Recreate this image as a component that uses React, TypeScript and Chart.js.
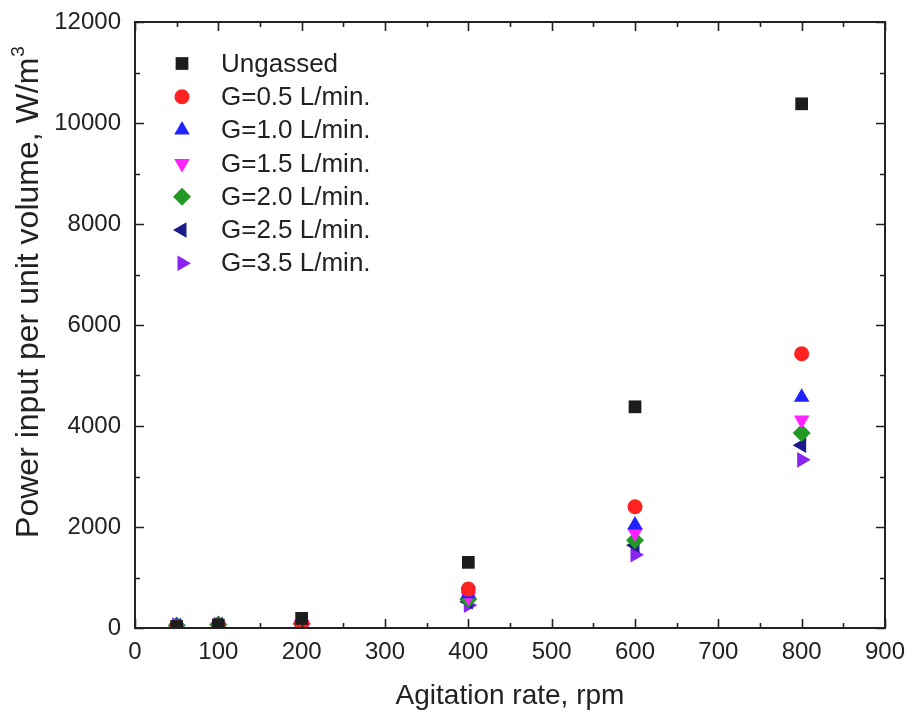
import React, { useEffect, useRef } from 'react';
import { Chart, registerables } from 'chart.js';
import { drawPoint } from 'chart.js/helpers';

Chart.register(...registerables);

const rpm = [50, 100, 200, 400, 600, 800];
const ungassed = [30, 60, 190, 1300, 4380, 10380];
const g05 = [20, 40, 90, 770, 2400, 5430];
const g10 = [30, 50, 90, 680, 2040, 4570];
const g15 = [10, 30, 70, 620, 1880, 4120];
const g20 = [50, 70, 90, 570, 1740, 3860];
const g25 = [50, 70, 80, 520, 1640, 3620];
const g35 = [60, 70, 70, 450, 1450, 3330];

const seriesNames = [
  'Ungassed',
  'G=0.5 L/min.',
  'G=1.0 L/min.',
  'G=1.5 L/min.',
  'G=2.0 L/min.',
  'G=2.5 L/min.',
  'G=3.5 L/min.',
];
const seriesValues = [ungassed, g05, g10, g15, g20, g25, g35];
const seriesColors = ['#1c1c1c', '#ff2222', '#2222ff', '#ff22ff', '#229922', '#1c1c8c', '#8a22f0'];
const seriesStyles = ['rect', 'circle', 'triangle', 'triangle', 'rectRot', 'triangle', 'triangle'];
const seriesRotations = [0, 0, 0, 180, 0, -90, 90];
const seriesRadii = [9, 7.5, 9, 9, 9, 9, 9];

const xTicks = [0, 100, 200, 300, 400, 500, 600, 700, 800, 900];
const yTicks = [0, 2000, 4000, 6000, 8000, 10000, 12000];

const xTitle = 'Agitation rate, rpm';
const yTitle = 'Power input per unit volume, W/m';
const yTitleSup = '3';

const FONT = 'Arial, "Liberation Sans", sans-serif';
const TEXT = '#222222';

const framePlugin = {
  id: 'frameTicks',
  afterDraw(chart: any) {
    const { ctx, chartArea: a, scales } = chart;
    const xs = scales.x;
    const ys = scales.y;
    ctx.save();
    ctx.strokeStyle = '#222222';
    ctx.lineWidth = 2;
    ctx.strokeRect(a.left, a.top, a.right - a.left, a.bottom - a.top);
    ctx.lineWidth = 1.6;
    const major = 9;
    const minor = 5;
    for (let i = 0; i < xTicks.length; i++) {
      const v = xTicks[i];
      const px = Math.round(xs.getPixelForValue(v)) + 0.5;
      ctx.beginPath();
      ctx.moveTo(px, a.bottom);
      ctx.lineTo(px, a.bottom - major);
      ctx.moveTo(px, a.top);
      ctx.lineTo(px, a.top + major);
      ctx.stroke();
      if (i < xTicks.length - 1) {
        const m = Math.round(xs.getPixelForValue((v + xTicks[i + 1]) / 2)) + 0.5;
        ctx.beginPath();
        ctx.moveTo(m, a.bottom);
        ctx.lineTo(m, a.bottom - minor);
        ctx.moveTo(m, a.top);
        ctx.lineTo(m, a.top + minor);
        ctx.stroke();
      }
    }
    for (let i = 0; i < yTicks.length; i++) {
      const v = yTicks[i];
      const py = Math.round(ys.getPixelForValue(v)) + 0.5;
      ctx.beginPath();
      ctx.moveTo(a.left, py);
      ctx.lineTo(a.left + major, py);
      ctx.moveTo(a.right, py);
      ctx.lineTo(a.right - major, py);
      ctx.stroke();
      if (i < yTicks.length - 1) {
        const m = Math.round(ys.getPixelForValue((v + yTicks[i + 1]) / 2)) + 0.5;
        ctx.beginPath();
        ctx.moveTo(a.left, m);
        ctx.lineTo(a.left + minor, m);
        ctx.moveTo(a.right, m);
        ctx.lineTo(a.right - minor, m);
        ctx.stroke();
      }
    }
    ctx.restore();
  },
};

const legendPlugin = {
  id: 'insideLegend',
  afterDraw(chart: any) {
    const { ctx, chartArea: a } = chart;
    ctx.save();
    const markerX = a.left + 47;
    const textX = a.left + 86;
    const startY = a.top + 41.5;
    const step = 33.3;
    ctx.font = `26px ${FONT}`;
    ctx.textBaseline = 'middle';
    ctx.textAlign = 'left';
    for (let i = 0; i < seriesNames.length; i++) {
      const y = startY + i * step;
      ctx.fillStyle = seriesColors[i];
      ctx.strokeStyle = seriesColors[i];
      drawPoint(
        ctx,
        {
          pointStyle: seriesStyles[i],
          rotation: seriesRotations[i],
          radius: seriesRadii[i],
          borderWidth: 0,
        } as any,
        markerX,
        y
      );
      ctx.fillStyle = TEXT;
      ctx.fillText(seriesNames[i], textX, y + 1);
    }
    ctx.restore();
  },
};

const titlesPlugin = {
  id: 'axisTitles',
  afterDraw(chart: any) {
    const { ctx, chartArea: a } = chart;
    ctx.save();
    ctx.fillStyle = TEXT;
    ctx.font = `28px ${FONT}`;
    ctx.textAlign = 'center';
    ctx.textBaseline = 'alphabetic';
    ctx.fillText(xTitle, (a.left + a.right) / 2, 704);

    ctx.translate(38, 292);
    ctx.rotate(-Math.PI / 2);
    ctx.font = `32px ${FONT}`;
    const w1 = ctx.measureText(yTitle).width;
    ctx.font = `19px ${FONT}`;
    const w2 = ctx.measureText(yTitleSup).width;
    const total = w1 + w2 + 1;
    ctx.textAlign = 'left';
    ctx.font = `32px ${FONT}`;
    ctx.fillText(yTitle, -total / 2, 0);
    ctx.font = `19px ${FONT}`;
    ctx.fillText(yTitleSup, -total / 2 + w1 + 1, -14);
    ctx.restore();
  },
};

export default function App() {
  const canvasRef = useRef<HTMLCanvasElement | null>(null);

  useEffect(() => {
    document.body.style.margin = '0';
    const canvas = canvasRef.current;
    if (!canvas) return;
    const datasets = seriesNames.map((name, i) => ({
      label: name,
      data: rpm.map((x, j) => ({ x, y: seriesValues[i][j] })),
      backgroundColor: seriesColors[i],
      borderColor: seriesColors[i],
      pointStyle: seriesStyles[i],
      rotation: seriesRotations[i],
      pointRadius: seriesRadii[i],
      pointBorderWidth: 0,
      showLine: false,
    }));
    const chart = new Chart(canvas, {
      type: 'scatter',
      data: { datasets },
      options: {
        responsive: false,
        animation: false,
        devicePixelRatio: 1,
        layout: { padding: { top: 22, right: 27, left: 0, bottom: 0 } },
        plugins: {
          legend: { display: false },
          tooltip: { enabled: false },
        },
        scales: {
          x: {
            type: 'linear',
            min: 0,
            max: 900,
            afterBuildTicks: (scale: any) => {
              scale.ticks = xTicks.map((v) => ({ value: v }));
            },
            afterFit: (scale: any) => {
              scale.height = 87;
              scale.paddingLeft = 0;
              scale.paddingRight = 0;
              scale.paddingTop = 0;
              scale.paddingBottom = 0;
            },
            grid: { display: false, drawTicks: false },
            border: { display: false },
            ticks: {
              padding: 10,
              color: TEXT,
              font: { family: FONT, size: 24 },
              maxRotation: 0,
            },
          },
          y: {
            type: 'linear',
            min: 0,
            max: 12000,
            afterBuildTicks: (scale: any) => {
              scale.ticks = yTicks.map((v) => ({ value: v }));
            },
            afterFit: (scale: any) => {
              scale.width = 135;
              scale.paddingLeft = 0;
              scale.paddingRight = 0;
              scale.paddingTop = 0;
              scale.paddingBottom = 0;
            },
            grid: { display: false, drawTicks: false },
            border: { display: false },
            ticks: {
              padding: 14,
              color: TEXT,
              font: { family: FONT, size: 24 },
              callback: (v: any) => String(v),
            },
          },
        },
      },
      plugins: [framePlugin, legendPlugin, titlesPlugin],
    } as any);
    return () => chart.destroy();
  }, []);

  return (
    <div style={{ width: 912, height: 715 }}>
      <canvas ref={canvasRef} width={912} height={715} />
    </div>
  );
}
